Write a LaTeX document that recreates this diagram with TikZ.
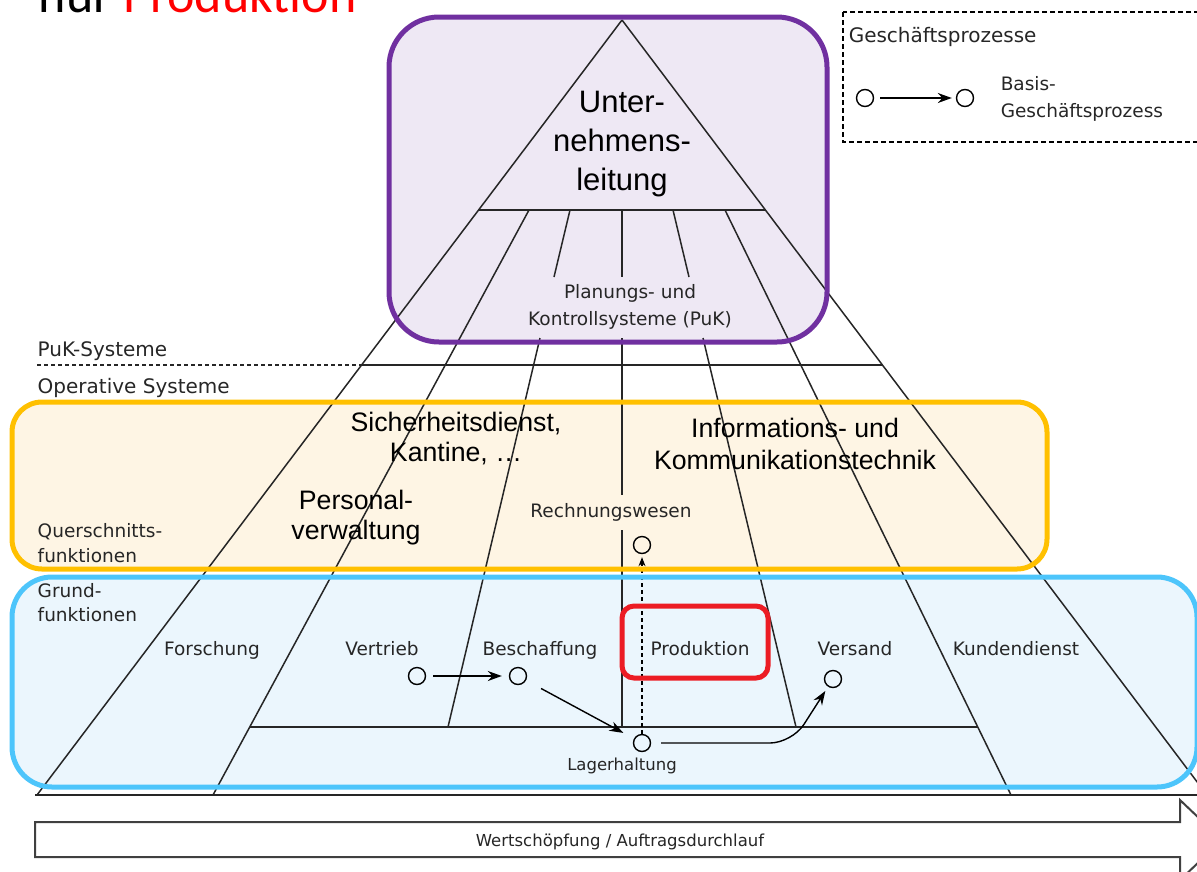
\documentclass[tikz,border=0pt]{standalone}
\usepackage{fontspec}
\setmainfont{Liberation Sans}
\newfontfamily\lblfont{DejaVu Sans}
\newfontfamily\titelfont{Carlito}
\usetikzlibrary{arrows.meta}
\definecolor{pukrand}{HTML}{7030A0}
\definecolor{pukgrund}{HTML}{EEE8F4}
\definecolor{querrand}{HTML}{FFC000}
\definecolor{quergrund}{HTML}{FEF5E4}
\definecolor{grundrand}{HTML}{4DC5FB}
\definecolor{grundgrund}{HTML}{EBF6FD}
\definecolor{prodrand}{HTML}{EC1C24}
\tikzset{
  lbl/.style={font=\lblfont\fontsize{18.5}{22}\selectfont,inner sep=0pt,text=black!85},
  lblgross/.style={lbl,font=\lblfont\fontsize{20}{24}\selectfont},
  lblklein/.style={lbl,font=\lblfont\fontsize{16.5}{20}\selectfont},
  gross/.style={font=\fontsize{26.7}{30}\selectfont,align=center,inner sep=0pt},
  proc/.style={circle,draw,line width=1.4pt,minimum size=17pt,inner sep=0pt},
  flow/.style={-{Stealth[length=14pt,width=10pt]},line width=1.4pt},
  bereich/.style={line width=5pt},
}
\begin{document}
\begin{tikzpicture}[x=1pt,y=-1pt,line width=1.5pt]
\useasboundingbox (0,0) rectangle (1197,871);
% flaechen der bereiche
\fill[pukgrund,rounded corners=50pt] (389,17) rectangle (827,342);
\fill[quergrund,rounded corners=30pt] (12,402) rectangle (1047,569);
\fill[grundgrund,rounded corners=40pt] (12,577) rectangle (1197,787);

% titel, oben angeschnitten
\node[font=\titelfont\fontsize{52}{60}\selectfont,anchor=base west,inner sep=0pt] (titel) at (38,12) {nur \textcolor{red}{Produktion}};

% legende
\draw[dash pattern=on 5pt off 3pt,line width=1.1pt] (843,12) rectangle (1215,142);
\node[lblgross,anchor=base west] (gp) at (848,42) {Geschäftsprozesse};
\node[proc] (lega) at (865,98) {};
\node[proc] (legb) at (965,98) {};
\draw[flow,shorten <=6pt,shorten >=4pt] (lega) -- (legb);
\node[lbl,anchor=base west] (basis) at (1000,90) {Basis-};
\node[lbl,anchor=base west] (basisgp) at (1000,117) {Geschäftsprozess};

% pyramide
\begin{scope}[black!85]
\draw (622,20) -- (37,795) (622,20) -- (1207,795);
\draw (479,210) -- (765,210);
\draw (529,210) -- (213,795) (725,210) -- (1011,795);
\draw (570,210) -- (554,277) (540,338) -- (448,727);
\draw (673,210) -- (689,277) (703,338) -- (796,727);
\draw (622,210) -- (622,277) (622,338) -- (622,495) (622,530) -- (622,727);
\draw (250,727) -- (978,727);
\draw[dash pattern=on 4pt off 3pt,line width=1.2pt] (37,365) -- (362,365);
\draw (362,365) -- (882,365);
\draw[line width=2pt] (35,795) -- (1197,795);
\end{scope}

% wertschoepfung
\draw[line width=2pt,draw=black!75,fill=white] (35,822) -- (1180,822) -- (1180,800) -- (1222,840) -- (1180,880) -- (1180,857) -- (35,857) -- cycle;
\node[lblklein,anchor=base] (wert) at (620,846) {Wertschöpfung / Auftragsdurchlauf};

% texte
\node[gross,font=\fontsize{31}{39}\selectfont] (leitung) at (622,144) {Unter-\\nehmens-\\leitung};
\node[lbl,anchor=base] (plan) at (630,298) {Planungs- und};
\node[lbl,anchor=base] (kontr) at (630,325) {Kontrollsysteme (PuK)};
\node[lblgross,anchor=base west] (puk) at (37,356) {PuK-Systeme};
\node[lblgross,anchor=base west] (operativ) at (37,393) {Operative Systeme};
\node[lbl,anchor=base west] (quer) at (37,537) {Querschnitts-};
\node[lbl,anchor=base west] (querf) at (37,562) {funktionen};
\node[lbl,anchor=base west] (grund) at (37,597) {Grund-};
\node[lbl,anchor=base west] (grundf) at (37,621) {funktionen};
\node[gross] (sicher) at (456,439) {Sicherheitsdienst,\\Kantine, \dots};
\node[gross] (personal) at (356,518) {Personal-\\verwaltung};
\node[gross,font=\fontsize{26.7}{32}\selectfont] (ikt) at (795,444) {Informations- und\\Kommunikationstechnik};
\node[lbl,anchor=base] (rewe) at (611,517) {Rechnungswesen};
\node[lbl,anchor=base] (forsch) at (212,655) {Forschung};
\node[lbl,anchor=base] (vertr) at (382,655) {Vertrieb};
\node[lbl,anchor=base] (besch) at (540,655) {Beschaffung};
\node[lbl,anchor=base] (prod) at (700,655) {Produktion};
\node[lbl,anchor=base] (vers) at (855,655) {Versand};
\node[lbl,anchor=base] (kunde) at (1016,655) {Kundendienst};
\node[lblklein,anchor=base] (lagtxt) at (622,770) {Lagerhaltung};

% basis-geschaeftsprozesse
\node[proc] (vertrieb) at (417,676) {};
\node[proc] (beschaffung) at (518,676) {};
\node[proc] (lager) at (642,743) {};
\node[proc] (rechnung) at (642,545) {};
\node[proc] (versand) at (833,679) {};
\coordinate (knick) at (792,743);
\draw[flow,shorten <=7pt,shorten >=7pt] (vertrieb) -- (beschaffung);
\draw[flow,shorten <=17pt,shorten >=12pt] (beschaffung) -- (lager);
\draw[flow,shorten <=10pt,shorten >=5pt,rounded corners=22pt] (lager) -- (knick) -- (versand);
\draw[-{Stealth[length=9pt,width=7pt]},line width=1.1pt,dash pattern=on 4pt off 3pt,shorten >=3pt] (lager) -- (rechnung);

% raender der bereiche
\draw[pukrand,bereich,rounded corners=50pt] (389,17) rectangle (827,342);
\draw[querrand,bereich,rounded corners=30pt] (12,402) rectangle (1047,569);
\draw[grundrand,bereich,rounded corners=40pt] (12,577) rectangle (1197,787);
\draw[prodrand,bereich,rounded corners=12pt] (622,606) rectangle (768,678);
\end{tikzpicture}
\end{document}
